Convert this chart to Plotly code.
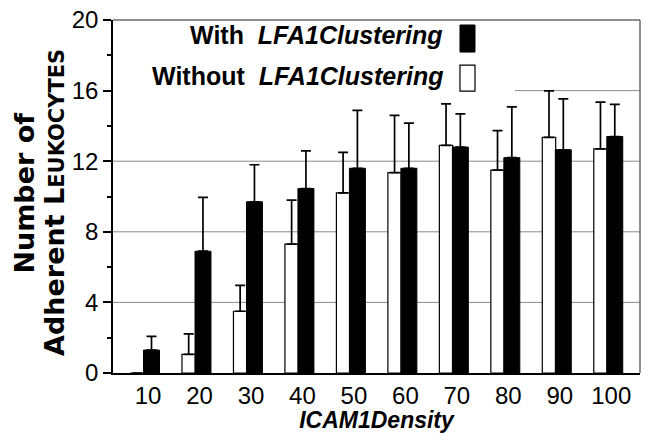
import plotly.graph_objects as go

# ICAM-1 density levels (x) and mean adherent leukocyte counts with upward SD
density = [10, 20, 30, 40, 50, 60, 70, 80, 90, 100]
without_mean = [0, 1.05, 3.5, 7.3, 10.2, 11.35, 12.9, 11.5, 13.35, 12.7]
without_err = [0, 1.17, 1.46, 2.5, 2.3, 3.25, 2.35, 2.23, 2.63, 2.65]
with_mean = [1.3, 6.9, 9.7, 10.45, 11.6, 11.6, 12.8, 12.2, 12.65, 13.4]
with_err = [0.78, 3.05, 2.1, 2.13, 3.28, 2.56, 1.88, 2.88, 2.88, 1.82]
tick_labels = [str(d) for d in density]

FONT = "Liberation Sans, Arial, Helvetica, sans-serif"
TITLE_FONT = "DejaVu Sans, Liberation Sans, sans-serif"

fig = go.Figure()

fig.add_trace(go.Bar(
    x=density, y=without_mean,
    offset=-2.82, width=2.6,
    marker=dict(color="white", line=dict(color="black", width=1.2)),
    error_y=dict(type="data", symmetric=False, array=without_err,
                 arrayminus=[0] * len(density),
                 color="black", thickness=1.7, width=5),
    name="Without LFA1Clustering", showlegend=False,
))
fig.add_trace(go.Bar(
    x=density, y=with_mean,
    offset=-0.29, width=3.1,
    marker=dict(color="black", line=dict(color="black", width=1)),
    error_y=dict(type="data", symmetric=False, array=with_err,
                 arrayminus=[0] * len(density),
                 color="black", thickness=1.7, width=5),
    name="With LFA1Clustering", showlegend=False,
))

shapes = []
# horizontal reference lines
for yv in (4, 8, 12):
    shapes.append(dict(type="line", xref="paper", yref="y", x0=0, x1=1, y0=yv, y1=yv,
                       line=dict(color="#8a8a8a", width=1), layer="below"))
shapes.append(dict(type="line", xref="paper", yref="y", x0=0.763, x1=1, y0=16, y1=16,
                   line=dict(color="#8a8a8a", width=1), layer="below"))
# top and right frame
shapes.append(dict(type="line", xref="paper", yref="paper", x0=0, x1=1, y0=1, y1=1,
                   line=dict(color="#6a6a6a", width=1.5)))
shapes.append(dict(type="line", xref="paper", yref="paper", x0=1, x1=1, y0=0, y1=1,
                   line=dict(color="#6a6a6a", width=1.5)))
# legend swatches
shapes.append(dict(type="rect", xref="paper", yref="paper", x0=0.6584, x1=0.6869,
                   y0=0.9092, y1=0.9858, fillcolor="black", line=dict(color="black", width=1)))
shapes.append(dict(type="rect", xref="paper", yref="paper", x0=0.6584, x1=0.6869,
                   y0=0.7986, y1=0.8723, fillcolor="white", line=dict(color="black", width=1.2)))

annotations = [
    dict(text="<b>With  <i>LFA1Clustering</i></b>", xref="paper", yref="paper",
         x=0.630, y=0.957, xanchor="right", yanchor="middle", showarrow=False,
         font=dict(family=FONT, size=25, color="black")),
    dict(text="<b>Without  <i>LFA1Clustering</i></b>", xref="paper", yref="paper",
         x=0.630, y=0.840, xanchor="right", yanchor="middle", showarrow=False,
         font=dict(family=FONT, size=25, color="black")),
    dict(text="<b>Number of</b>", xref="paper", yref="paper",
         x=-0.167, y=0.511, xanchor="center", yanchor="middle", textangle=-90,
         showarrow=False, font=dict(family=TITLE_FONT, size=27, color="black")),
    dict(text="<b>Adherent L<span style='font-size:21px'>EUKOCYTES</span></b>",
         xref="paper", yref="paper",
         x=-0.110, y=0.482, xanchor="center", yanchor="middle", textangle=-90,
         showarrow=False, font=dict(family=TITLE_FONT, size=27, color="black")),
]

fig.update_layout(
    width=645, height=433,
    margin=dict(l=113, r=5, t=20, b=60),
    paper_bgcolor="white", plot_bgcolor="white",
    barmode="overlay",
    shapes=shapes, annotations=annotations,
    font=dict(family=FONT, color="black"),
    xaxis=dict(
        range=[3.78, 106.16], tickmode="array", tickvals=density, ticktext=tick_labels,
        ticks="", showgrid=False, zeroline=False,
        showline=True, linecolor="black", linewidth=1.5,
        tickfont=dict(family=FONT, size=24, color="black"),
        ticklabelshift=3,
        title=dict(text="<b><i>ICAM1Density</i></b>", standoff=2,
                   font=dict(family=FONT, size=23, color="black")),
    ),
    yaxis=dict(
        range=[0, 20], tickmode="array", tickvals=[0, 4, 8, 12, 16, 20],
        ticks="outside", ticklen=8, tickwidth=1.5, tickcolor="black",
        minor=dict(tickvals=[2, 6, 10, 14, 18], ticks="outside", ticklen=4,
                   tickwidth=1.5, tickcolor="black", showgrid=False),
        showgrid=False, zeroline=False,
        showline=True, linecolor="black", linewidth=1.5,
        tickfont=dict(family=FONT, size=24, color="black"),
    ),
)

fig.write_html("out.html")
